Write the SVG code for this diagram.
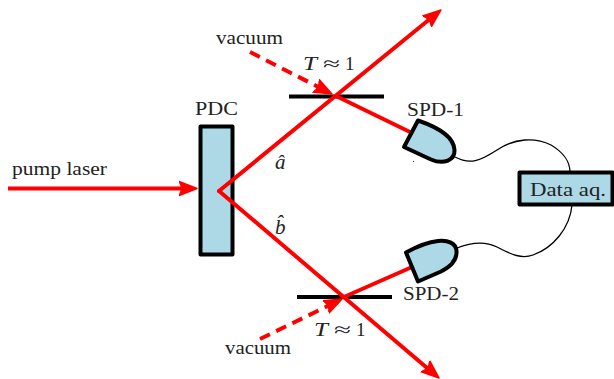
<svg xmlns="http://www.w3.org/2000/svg" width="614" height="379" viewBox="0 0 614 379">
<style>
text{font-family:"Liberation Serif","DejaVu Serif",serif;font-size:19px;fill:#222}
.i{font-style:italic}
.beam{fill:none;stroke:#f00;stroke-width:4}
.arrow{marker-end:url(#head)}
.dash{stroke-dasharray:11 7}
.wire{fill:none;stroke:#000;stroke-width:1.3}
.box{fill:#add8e6;stroke:#000;stroke-linejoin:round}
.bs{stroke:#000;stroke-width:4;fill:none}
</style>
<defs>
<marker id="head" markerUnits="userSpaceOnUse" markerWidth="24" markerHeight="22" refX="4" refY="11" orient="auto" viewBox="0 0 24 22">
<path d="M0,4 L18,11 L0,18 Q5,11 0,4 Z" fill="#f00" stroke="#f00" stroke-width="1.500" stroke-linejoin="round"/>
</marker>
</defs>
<g id="wires">
<path class="wire" d="M455,157 C470,165 480,161 497,150 C515,138 535,137 551,145 C563,152 570,162 570,172"/>
<path class="wire" d="M457,248 C472,242 485,241 497,247 C512,255 522,259 533,255 C553,248 570,228 572,205"/>
</g>
<g id="pdc">
<rect class="box" x="200.500" y="126.500" width="32" height="128" stroke-width="4"/>
<text x="195" y="115" textLength="43" lengthAdjust="spacingAndGlyphs">PDC</text>
</g>
<g id="bs-top"><line class="bs" x1="289" y1="96.500" x2="384" y2="96.500"/><text class="i" x="303" y="70" textLength="14" lengthAdjust="spacingAndGlyphs">T</text><text x="323" y="70" textLength="17" lengthAdjust="spacingAndGlyphs">≈</text><text x="345" y="70">1</text></g>
<g id="bs-bottom"><line class="bs" x1="297" y1="297" x2="392" y2="297"/><text class="i" x="314" y="336" textLength="14" lengthAdjust="spacingAndGlyphs">T</text><text x="334" y="336" textLength="17" lengthAdjust="spacingAndGlyphs">≈</text><text x="356" y="336">1</text></g>
<g id="connectors">
<line class="beam arrow" x1="8" y1="188.500" x2="183" y2="188.500"/>
<line class="beam arrow" stroke-linecap="round" x1="219" y1="191" x2="430.100" y2="18.800"/>
<line class="beam arrow" stroke-linecap="round" x1="219" y1="191" x2="428.300" y2="368.900"/>
<line class="beam" x1="336" y1="96" x2="412" y2="133"/>
<line class="beam" x1="344" y1="297" x2="412" y2="267"/>
<line class="beam arrow dash" x1="250" y1="52" x2="319.500" y2="87.600"/>
<line class="beam arrow dash" x1="260" y1="339" x2="329.400" y2="305.200"/>
</g>
<g id="spd-1">
<path class="box" stroke-width="4" d="M418,120.500 L404,147 L431,159.500 C444,165 455,160 454.500,150 C454,138 440,128 418,120.500 Z"/>
<text x="407" y="116" textLength="57" lengthAdjust="spacingAndGlyphs">SPD-1</text>
<rect x="413" y="161" width="1" height="1" fill="#333"/>
</g>
<g id="spd-2">
<path class="box" stroke-width="4" d="M406,252.500 L418,281.500 L441,271.500 C452,266 457,259 456.500,251 C456,243 448,240 438,241 C428,242 416,247 406,252.500 Z"/>
<text x="403" y="300" textLength="56" lengthAdjust="spacingAndGlyphs">SPD-2</text>
</g>
<g id="data">
<rect class="box" x="519.500" y="172.500" width="93" height="32" stroke-width="4"/>
<text x="530" y="196" textLength="76" lengthAdjust="spacingAndGlyphs">Data aq.</text>
</g>
<g id="labels">
<text x="12" y="175" textLength="95" lengthAdjust="spacingAndGlyphs">pump laser</text>
<text x="216" y="44" textLength="67" lengthAdjust="spacingAndGlyphs">vacuum</text>
<text x="225" y="354" textLength="66" lengthAdjust="spacingAndGlyphs">vacuum</text>
<text class="i" x="275" y="169" style="font-size:21px">â</text>
<text class="i" x="275" y="234" style="font-size:21px">b̂</text>
</g>
</svg>
